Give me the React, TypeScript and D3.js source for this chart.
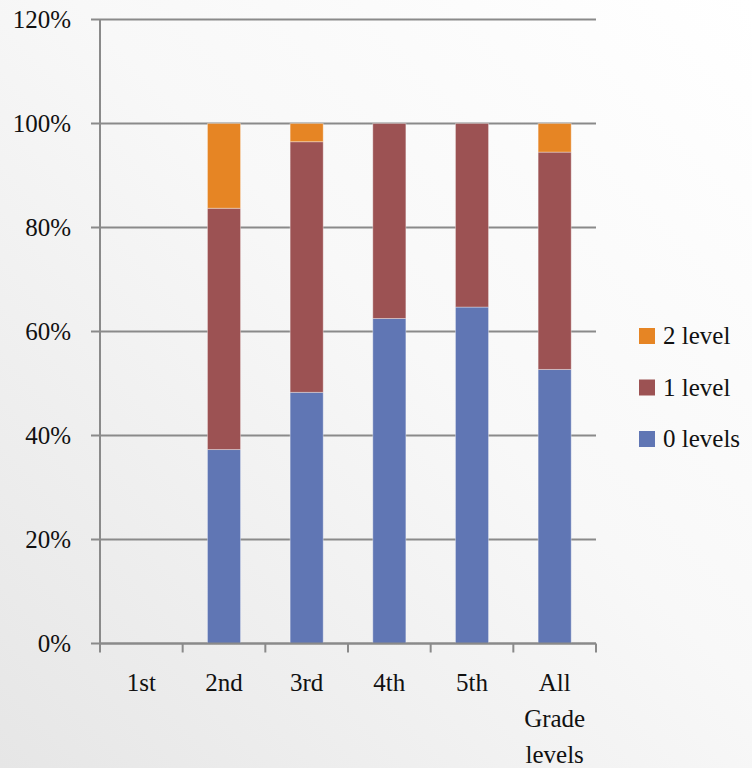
import React from "react";
import * as d3 from "d3";

const categories = ["1st", "2nd", "3rd", "4th", "5th", "All Grade levels"];
const categoryLines = [["1st"], ["2nd"], ["3rd"], ["4th"], ["5th"], ["All", "Grade", "levels"]];
const zeroLevels = [0, 0.373, 0.483, 0.625, 0.647, 0.527];
const oneLevel = [0, 0.464, 0.482, 0.375, 0.353, 0.418];
const twoLevel = [0, 0.163, 0.035, 0, 0, 0.055];
const seriesNames = ["0 levels", "1 level", "2 level"];
const seriesColors = ["#6076B4", "#9C5253", "#E68524"];
const yTicks = [0, 0.2, 0.4, 0.6, 0.8, 1.0, 1.2];

const W = 752;
const H = 768;
const textStyle: React.CSSProperties = {
  fontFamily: '"Liberation Serif", "Times New Roman", serif',
  fontSize: "25px",
  fill: "#111",
};

export default function App() {
  const left = 100;
  const right = 596;
  const top = 19.5;
  const bottom = 643.5;

  const y = d3.scaleLinear().domain([0, 1.2]).range([bottom, top]);
  const x = d3
    .scaleBand<string>()
    .domain(categories)
    .range([left, right])
    .paddingInner(0.6)
    .paddingOuter(0.3);

  const rows = categories.map((c, i) => ({
    cat: c,
    "0 levels": zeroLevels[i],
    "1 level": oneLevel[i],
    "2 level": twoLevel[i],
  }));
  const stacked = d3.stack<any>().keys(seriesNames)(rows);
  const step = x.step();
  const fmt = d3.format(".0%");

  return (
    <svg
      width={W}
      height={H}
      style={{ position: "absolute", left: 0, top: 0 }}
    >
      <defs>
        <linearGradient id="bg" x1="0" y1="1" x2="1" y2="0">
          <stop offset="0" stopColor="#e6e6e6" />
          <stop offset="0.55" stopColor="#f8f8f8" />
          <stop offset="1" stopColor="#ffffff" />
        </linearGradient>
      </defs>
      <rect x={0} y={0} width={W} height={H} fill="url(#bg)" />

      {/* gridlines and y labels */}
      {yTicks.map((t) => (
        <g key={t}>
          <line
            x1={left - 9}
            x2={right}
            y1={y(t)}
            y2={y(t)}
            stroke="#8a8a8a"
            strokeWidth={2}
          />
          <text x={71} y={y(t) + 8} textAnchor="end" style={textStyle}>
            {fmt(t)}
          </text>
        </g>
      ))}

      {/* stacked bars */}
      {stacked.map((layer, si) => (
        <g key={layer.key} fill={seriesColors[si]}>
          {layer.map((d, i) => {
            const h = y(d[0]) - y(d[1]);
            if (h <= 0) return null;
            return (
              <rect
                key={i}
                x={x(categories[i])!}
                y={y(d[1])}
                width={x.bandwidth()}
                height={h}
                stroke="rgba(255,255,255,0.35)"
                strokeWidth={1}
              />
            );
          })}
        </g>
      ))}

      {/* y axis line */}
      <line x1={left} x2={left} y1={top} y2={bottom} stroke="#8a8a8a" strokeWidth={2} />
      {/* x axis with boundary ticks */}
      <line x1={left} x2={right} y1={bottom} y2={bottom} stroke="#8a8a8a" strokeWidth={2} />
      {d3.range(categories.length + 1).map((i) => (
        <line
          key={i}
          x1={left + i * step}
          x2={left + i * step}
          y1={bottom}
          y2={bottom + 9}
          stroke="#8a8a8a"
          strokeWidth={2}
        />
      ))}

      {/* category labels */}
      {categories.map((c, i) => (
        <text
          key={c}
          x={x(c)! + x.bandwidth() / 2}
          y={691}
          textAnchor="middle"
          style={textStyle}
        >
          {categoryLines[i].map((ln, j) => (
            <tspan key={j} x={x(c)! + x.bandwidth() / 2} dy={j === 0 ? 0 : 36}>
              {ln}
            </tspan>
          ))}
        </text>
      ))}

      {/* legend */}
      {[2, 1, 0].map((si, k) => (
        <g key={si} transform={`translate(639, ${328 + k * 51.5})`}>
          <rect x={0} y={0} width={16} height={16} fill={seriesColors[si]} />
          <text x={24} y={16} style={textStyle}>
            {seriesNames[si]}
          </text>
        </g>
      ))}
    </svg>
  );
}
